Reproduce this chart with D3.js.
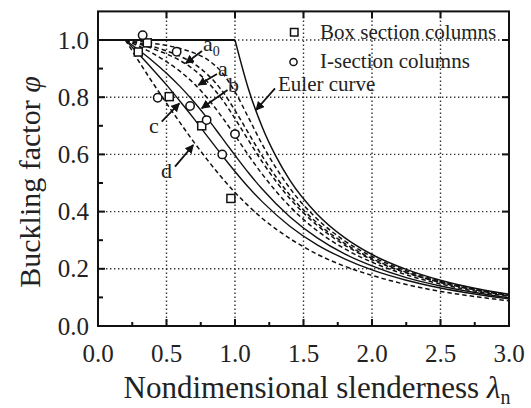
<!DOCTYPE html>
<html>
<head>
<meta charset="utf-8">
<script src="https://cdn.jsdelivr.net/npm/d3@7"></script>
<style>
  html, body { margin: 0; padding: 0; background: #fff; }
  svg { display: block; }
  text { font-family: "Liberation Serif", "Times New Roman", serif; fill: #222; }
</style>
</head>
<body>
<svg id="chart" width="531" height="408"></svg>
<script>
// Nondimensional slenderness values at which the column curves are tabulated
const lambdaN = [0.2, 0.3, 0.4, 0.5, 0.6, 0.7, 0.8, 0.9, 1.0, 1.1, 1.2, 1.4, 1.6, 1.8, 2.0, 2.25, 2.5, 2.75, 3.0];

// Buckling factor of each column curve at lambdaN
const curveA0 = [1, 0.986, 0.970, 0.951, 0.928, 0.896, 0.853, 0.796, 0.725, 0.648, 0.573, 0.446, 0.352, 0.283, 0.232, 0.186, 0.152, 0.126, 0.106];
const curveA  = [1, 0.978, 0.953, 0.924, 0.890, 0.848, 0.796, 0.734, 0.666, 0.596, 0.530, 0.418, 0.333, 0.270, 0.223, 0.179, 0.147, 0.122, 0.104];
const curveB  = [1, 0.964, 0.926, 0.884, 0.837, 0.784, 0.725, 0.661, 0.597, 0.535, 0.478, 0.382, 0.308, 0.252, 0.210, 0.169, 0.140, 0.117, 0.099];
const curveC  = [1, 0.949, 0.897, 0.843, 0.785, 0.725, 0.662, 0.600, 0.540, 0.484, 0.434, 0.349, 0.284, 0.235, 0.196, 0.160, 0.133, 0.112, 0.095];
const curveD  = [1, 0.924, 0.850, 0.779, 0.710, 0.643, 0.580, 0.521, 0.467, 0.419, 0.376, 0.306, 0.251, 0.209, 0.177, 0.145, 0.121, 0.103, 0.088];
const curveU1 = [1, 0.989, 0.977, 0.962, 0.943, 0.917, 0.879, 0.826, 0.754, 0.673, 0.593, 0.458, 0.360, 0.289, 0.236, 0.188, 0.153, 0.127, 0.107];
const curveU2 = [1, 0.995, 0.988, 0.981, 0.970, 0.955, 0.931, 0.889, 0.819, 0.727, 0.634, 0.482, 0.374, 0.298, 0.243, 0.193, 0.157, 0.130, 0.109];

// Euler curve (plateau at 1.0 up to lambda = 1, then elastic branch)
const eulerLambda = [0, 1.0, 1.1, 1.2, 1.3, 1.4, 1.6, 1.8, 2.0, 2.25, 2.5, 2.75, 3.0];
const eulerPhi    = [1, 1.0, 0.826, 0.694, 0.592, 0.510, 0.391, 0.309, 0.250, 0.198, 0.160, 0.132, 0.111];

// Test results
const boxLambda = [0.294, 0.36, 0.52, 0.757, 0.97];
const boxPhi    = [0.958, 0.99, 0.802, 0.70, 0.446];
const iLambda   = [0.326, 0.574, 0.436, 0.672, 0.793, 0.907, 1.0];
const iPhi      = [1.017, 0.959, 0.798, 0.769, 0.72, 0.600, 0.671];

// Axis ticks
const xTicks = [0.0, 0.5, 1.0, 1.5, 2.0, 2.5, 3.0];
const yTicks = [0.0, 0.2, 0.4, 0.6, 0.8, 1.0];
const xMinor = [0.25, 0.75, 1.25, 1.75, 2.25, 2.75];
const yMinor = [0.1, 0.3, 0.5, 0.7, 0.9];

const svg = d3.select("#chart");
const x = d3.scaleLinear().domain([0, 3]).range([98, 509]);
const y = d3.scaleLinear().domain([0, 1.1]).range([326, 11.4]);
const [x0, x1] = x.range();
const [y0, y1] = y.range();

// dotted grid
const grid = svg.append("g").attr("stroke", "#333").attr("stroke-width", 1.4)
  .attr("stroke-dasharray", "1.4,2.6");
xTicks.slice(1, -1).forEach(v => grid.append("line")
  .attr("x1", x(v)).attr("x2", x(v)).attr("y1", y0).attr("y2", y1));
yTicks.slice(1).forEach(v => grid.append("line")
  .attr("x1", x0).attr("x2", x1).attr("y1", y(v)).attr("y2", y(v)));

// column curves
const series = [
  { values: curveU2, dashed: true },
  { values: curveU1, dashed: true },
  { values: curveA0, dashed: true },
  { values: curveA,  dashed: true },
  { values: curveB,  dashed: false },
  { values: curveC,  dashed: false },
  { values: curveD,  dashed: true }
];
const line = d3.line().x(d => x(d[0])).y(d => y(d[1])).curve(d3.curveMonotoneX);
const curves = svg.append("g").attr("fill", "none").attr("stroke", "#111");
series.forEach(s => {
  curves.append("path")
    .attr("d", line(lambdaN.map((l, i) => [l, s.values[i]])))
    .attr("stroke-width", s.dashed ? 1.5 : 1.4)
    .attr("stroke-dasharray", s.dashed ? "4.5,3" : null);
});

// Euler curve: plateau then elastic branch
curves.append("path")
  .attr("d", d3.line().x(d => x(d[0])).y(d => y(d[1]))([[eulerLambda[0], eulerPhi[0]], [eulerLambda[1], eulerPhi[1]]]))
  .attr("stroke-width", 2);
curves.append("path")
  .attr("d", line(eulerLambda.slice(1).map((l, i) => [l, eulerPhi[i + 1]])))
  .attr("stroke-width", 1.5);

// test markers
const marks = svg.append("g").attr("fill", "#fff").attr("stroke", "#111").attr("stroke-width", 1.5);
boxLambda.forEach((l, i) => marks.append("rect")
  .attr("x", x(l) - 4).attr("y", y(boxPhi[i]) - 4).attr("width", 8).attr("height", 8));
iLambda.forEach((l, i) => marks.append("circle")
  .attr("cx", x(l)).attr("cy", y(iPhi[i])).attr("r", 4.2));

// frame
svg.append("rect").attr("x", x0).attr("y", y1).attr("width", x1 - x0).attr("height", y0 - y1)
  .attr("fill", "none").attr("stroke", "#111").attr("stroke-width", 2);

// inward ticks
const ticks = svg.append("g").attr("stroke", "#111").attr("stroke-width", 2);
xTicks.forEach(v => {
  ticks.append("line").attr("x1", x(v)).attr("x2", x(v)).attr("y1", y0).attr("y2", y0 - 7);
  ticks.append("line").attr("x1", x(v)).attr("x2", x(v)).attr("y1", y1).attr("y2", y1 + 7);
});
xMinor.forEach(v => ticks.append("line").attr("x1", x(v)).attr("x2", x(v)).attr("y1", y0).attr("y2", y0 - 4));
yTicks.forEach(v => {
  ticks.append("line").attr("x1", x0).attr("x2", x0 + 7).attr("y1", y(v)).attr("y2", y(v));
  ticks.append("line").attr("x1", x1).attr("x2", x1 - 7).attr("y1", y(v)).attr("y2", y(v));
});
yMinor.forEach(v => ticks.append("line").attr("x1", x0).attr("x2", x0 + 5).attr("y1", y(v)).attr("y2", y(v)));

// tick labels
svg.append("g").selectAll("text").data(xTicks).join("text")
  .attr("x", d => x(d)).attr("y", 362).attr("text-anchor", "middle")
  .attr("font-size", 25).text(d => d.toFixed(1));
svg.append("g").selectAll("text").data(yTicks).join("text")
  .attr("x", 89).attr("y", d => y(d) + 8.5).attr("text-anchor", "end")
  .attr("font-size", 25).text(d => d.toFixed(1));

// axis titles
const xt = svg.append("text").attr("x", 317).attr("y", 398).attr("text-anchor", "middle").attr("font-size", 31);
xt.append("tspan").text("Nondimensional slenderness ");
xt.append("tspan").attr("font-style", "italic").text("λ");
xt.append("tspan").attr("font-size", 20).attr("dy", 6).text("n");

const yt = svg.append("text").attr("transform", "translate(40,182) rotate(-90)")
  .attr("text-anchor", "middle").attr("font-size", 30);
yt.append("tspan").text("Buckling factor ");
yt.append("tspan").attr("font-style", "italic").text("φ");

// legend
svg.append("rect").attr("x", 290.5).attr("y", 28.5).attr("width", 7.5).attr("height", 7.5)
  .attr("fill", "#fff").attr("stroke", "#111").attr("stroke-width", 1.5);
svg.append("circle").attr("cx", 293.5).attr("cy", 62).attr("r", 3.6)
  .attr("fill", "#fff").attr("stroke", "#111").attr("stroke-width", 1.5);
svg.append("text").attr("x", 320).attr("y", 39).attr("font-size", 21).text("Box section columns");
svg.append("text").attr("x", 320).attr("y", 68).attr("font-size", 21).text("I-section columns");

// curve labels with arrows
svg.append("defs").append("marker").attr("id", "head")
  .attr("viewBox", "0 0 10 10").attr("refX", 9).attr("refY", 5)
  .attr("markerWidth", 9).attr("markerHeight", 9).attr("markerUnits", "userSpaceOnUse")
  .attr("orient", "auto")
  .append("path").attr("d", "M0,0 L10,5 L0,10 z").attr("fill", "#111");

const arrows = [
  [202, 51, 185.7, 63.3],
  [217, 74, 198.3, 85],
  [227.5, 90, 201.7, 108.3],
  [161.7, 121.7, 179.3, 103.3],
  [175, 166.7, 193.3, 145],
  [275, 88.3, 256, 110]
];
const arr = svg.append("g").attr("stroke", "#111").attr("stroke-width", 1.8);
arrows.forEach(a => arr.append("line")
  .attr("x1", a[0]).attr("y1", a[1]).attr("x2", a[2]).attr("y2", a[3])
  .attr("marker-end", "url(#head)"));

const lab = svg.append("g").attr("font-size", 22);
const a0 = lab.append("text").attr("x", 203).attr("y", 51);
a0.append("tspan").text("a");
a0.append("tspan").attr("font-size", 14).attr("dy", 5).text("0");
lab.append("text").attr("x", 218).attr("y", 76).text("a");
lab.append("text").attr("x", 228).attr("y", 92).text("b");
lab.append("text").attr("x", 149).attr("y", 133).text("c");
lab.append("text").attr("x", 161).attr("y", 178).text("d");
lab.append("text").attr("x", 278).attr("y", 91).attr("font-size", 21).text("Euler curve");
</script>
</body>
</html>
